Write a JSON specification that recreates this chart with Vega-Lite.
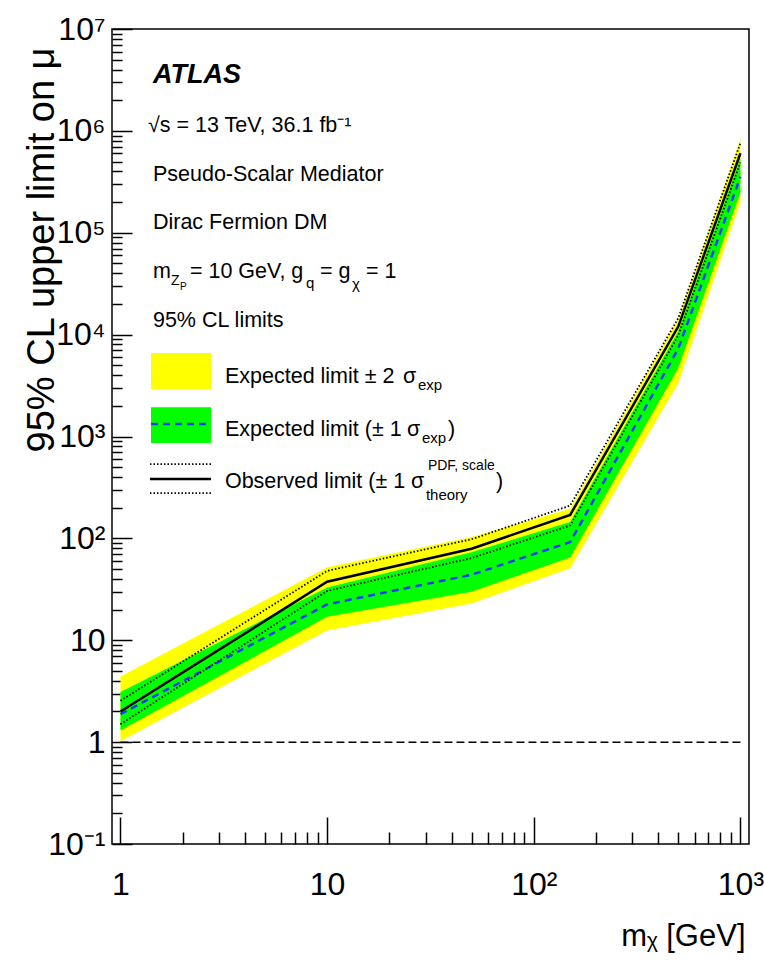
{
  "$schema": "https://vega.github.io/schema/vega-lite/v6.json",
  "width": 637,
  "height": 815,
  "autosize": "none",
  "padding": {"left": 112, "top": 29, "right": 15, "bottom": 116},
  "background": "white",
  "config": {
    "view": {"stroke": "black", "strokeWidth": 1.5},
    "axis": {"domain": false, "grid": false, "tickColor": "black", "tickWidth": 1.5, "labelColor": "black", "titleColor": "black", "zindex": 1},
    "text": {"font": "Liberation Sans", "color": "black", "align": "left", "baseline": "alphabetic", "fontSize": 21.5}
  },
  "resolve": {"axis": {"x": "independent", "y": "independent"}},
  "datasets": {
    "limits": [
      {"m": 1, "m2": 1.02, "m1": 1.3, "exp": 1.88, "p1": 3.1, "p2": 4.4, "obs": 2.0, "obsUp": 2.55, "obsDown": 1.5},
      {"m": 10, "m2": 12.5, "m1": 17, "exp": 22.5, "p1": 33, "p2": 52, "obs": 37.5, "obsUp": 48, "obsDown": 30.5},
      {"m": 50, "m2": 23, "m1": 30, "exp": 44, "p1": 73, "p2": 103, "obs": 79, "obsUp": 98, "obsDown": 64},
      {"m": 150, "m2": 51, "m1": 65, "exp": 92, "p1": 145, "p2": 195, "obs": 170, "obsUp": 210, "obsDown": 134},
      {"m": 500, "m2": 3340, "m1": 4700, "exp": 7300, "p1": 10800, "p2": 14300, "obs": 12000, "obsUp": 14500, "obsDown": 9800},
      {"m": 1000, "m2": 200000, "m1": 250000, "exp": 355000, "p1": 540000, "p2": 830000, "obs": 603000, "obsUp": 760000, "obsDown": 490000}
    ],
    "one": [{}]
  },
  "layer": [
    {
      "data": {"name": "limits"},
      "mark": {"type": "area", "fill": "#ffff00", "stroke": null},
      "encoding": {
        "x": {"field": "m", "type": "quantitative", "scale": {"type": "log", "domain": [0.91, 1100], "nice": false},
          "axis": {"orient": "bottom", "values": [1, 10, 100, 1000], "tickSize": -27, "labelPadding": 52,
            "labelExpr": "datum.value < 5 ? '1' : datum.value < 50 ? '10' : datum.value < 500 ? '10²' : '10³'",
            "labelFont": "Liberation Sans", "labelFontSize": 32, "labelBaseline": "top", "labelAlign": "center",
            "labelFlush": false, "labelOverlap": false,
            "title": "mᵪ [GeV]", "titleFont": "Liberation Sans", "titleFontSize": 31, "titleFontWeight": "normal",
            "titleAnchor": "end", "titleAlign": "right", "titleBaseline": "alphabetic", "titleX": 633, "titleY": 101}},
        "y": {"field": "p2", "type": "quantitative", "scale": {"type": "log", "domain": [0.1, 10000000], "nice": false},
          "axis": {"orient": "left", "values": [0.1, 1, 10, 100, 1000, 10000, 100000, 1000000, 10000000], "tickSize": -20, "labelPadding": 27,
            "labelExpr": "datum.value < 0.5 ? '10⁻¹' : datum.value < 5 ? '1' : datum.value < 50 ? '10' : datum.value < 500 ? '10²' : datum.value < 5000 ? '10³' : datum.value < 50000 ? '10⁴' : datum.value < 500000 ? '10⁵' : datum.value < 5000000 ? '10⁶' : '10⁷'",
            "labelFont": "Liberation Sans", "labelFontSize": 32, "labelAlign": "right", "labelBaseline": "middle",
            "labelFlush": false, "labelOverlap": false,
            "title": "95% CL upper limit on μ", "titleFont": "Liberation Sans", "titleFontSize": 38, "titleFontWeight": "normal",
            "titleAngle": -90, "titleAlign": "right", "titleBaseline": "alphabetic", "titleX": -59, "titleY": 18}},
        "y2": {"field": "m2"}
      }
    },
    {
      "data": {"name": "limits"},
      "mark": {"type": "area", "fill": "#00ff00", "stroke": null},
      "encoding": {
        "x": {"field": "m", "type": "quantitative", "scale": {"type": "log", "domain": [0.91, 1100], "nice": false},
          "axis": {"orient": "bottom", "values": [2, 3, 4, 5, 6, 7, 8, 9, 20, 30, 40, 50, 60, 70, 80, 90, 200, 300, 400, 500, 600, 700, 800, 900], "tickSize": -12, "labels": false, "title": null}},
        "y": {"field": "p1", "type": "quantitative", "scale": {"type": "log", "domain": [0.1, 10000000], "nice": false},
          "axis": {"orient": "left", "values": [0.2, 0.3, 0.4, 0.5, 0.6, 0.7, 0.8, 0.9, 2, 3, 4, 5, 6, 7, 8, 9, 20, 30, 40, 50, 60, 70, 80, 90, 200, 300, 400, 500, 600, 700, 800, 900, 2000, 3000, 4000, 5000, 6000, 7000, 8000, 9000, 20000, 30000, 40000, 50000, 60000, 70000, 80000, 90000, 200000, 300000, 400000, 500000, 600000, 700000, 800000, 900000, 2000000, 3000000, 4000000, 5000000, 6000000, 7000000, 8000000, 9000000], "tickSize": -10, "labels": false, "title": null}},
        "y2": {"field": "m1"}
      }
    },
    {
      "data": {"name": "limits"},
      "mark": {"type": "line", "stroke": "#1a3cf5", "strokeWidth": 2.5, "strokeDash": [7, 5]},
      "encoding": {
        "x": {"field": "m", "type": "quantitative", "scale": {"type": "log", "domain": [0.91, 1100], "nice": false}, "axis": null},
        "y": {"field": "exp", "type": "quantitative", "scale": {"type": "log", "domain": [0.1, 10000000], "nice": false}, "axis": null}
      }
    },
    {
      "data": {"name": "limits"},
      "mark": {"type": "line", "stroke": "black", "strokeWidth": 1.8, "strokeDash": [1.5, 2]},
      "encoding": {
        "x": {"field": "m", "type": "quantitative", "scale": {"type": "log", "domain": [0.91, 1100], "nice": false}, "axis": null},
        "y": {"field": "obsUp", "type": "quantitative", "scale": {"type": "log", "domain": [0.1, 10000000], "nice": false}, "axis": null}
      }
    },
    {
      "data": {"name": "limits"},
      "mark": {"type": "line", "stroke": "black", "strokeWidth": 1.8, "strokeDash": [1.5, 2]},
      "encoding": {
        "x": {"field": "m", "type": "quantitative", "scale": {"type": "log", "domain": [0.91, 1100], "nice": false}, "axis": null},
        "y": {"field": "obsDown", "type": "quantitative", "scale": {"type": "log", "domain": [0.1, 10000000], "nice": false}, "axis": null}
      }
    },
    {
      "data": {"name": "limits"},
      "mark": {"type": "line", "stroke": "black", "strokeWidth": 2.5},
      "encoding": {
        "x": {"field": "m", "type": "quantitative", "scale": {"type": "log", "domain": [0.91, 1100], "nice": false}, "axis": null},
        "y": {"field": "obs", "type": "quantitative", "scale": {"type": "log", "domain": [0.1, 10000000], "nice": false}, "axis": null}
      }
    },
    {
      "data": {"name": "one"},
      "mark": {"type": "rule", "stroke": "black", "strokeWidth": 1.5, "strokeDash": [8, 4]},
      "encoding": {
        "x": {"datum": 1, "type": "quantitative", "scale": {"type": "log", "domain": [0.91, 1100], "nice": false}, "axis": null},
        "x2": {"datum": 1000},
        "y": {"datum": 1, "type": "quantitative", "scale": {"type": "log", "domain": [0.1, 10000000], "nice": false}, "axis": null}
      }
    },
    {
      "data": {"name": "one"},
      "mark": {"type": "rect", "fill": "#ffff00"},
      "encoding": {
        "x": {"datum": 1.405, "type": "quantitative", "scale": {"type": "log", "domain": [0.91, 1100], "nice": false}, "axis": null},
        "x2": {"datum": 2.741},
        "y": {"datum": 6598, "type": "quantitative", "scale": {"type": "log", "domain": [0.1, 10000000], "nice": false}, "axis": null},
        "y2": {"datum": 2924}
      }
    },
    {
      "data": {"name": "one"},
      "mark": {"type": "rect", "fill": "#00ff00"},
      "encoding": {
        "x": {"datum": 1.405, "type": "quantitative", "scale": {"type": "log", "domain": [0.91, 1100], "nice": false}, "axis": null},
        "x2": {"datum": 2.741},
        "y": {"datum": 1942, "type": "quantitative", "scale": {"type": "log", "domain": [0.1, 10000000], "nice": false}, "axis": null},
        "y2": {"datum": 863}
      }
    },
    {
      "data": {"name": "one"},
      "mark": {"type": "rule", "stroke": "#1a3cf5", "strokeWidth": 2.5, "strokeDash": [7, 5]},
      "encoding": {
        "x": {"datum": 1.405, "type": "quantitative", "scale": {"type": "log", "domain": [0.91, 1100], "nice": false}, "axis": null},
        "x2": {"datum": 2.741},
        "y": {"datum": 1327, "type": "quantitative", "scale": {"type": "log", "domain": [0.1, 10000000], "nice": false}, "axis": null}
      }
    },
    {
      "data": {"name": "one"},
      "mark": {"type": "rule", "stroke": "black", "strokeWidth": 1.8, "strokeDash": [1.5, 2]},
      "encoding": {
        "x": {"datum": 1.389, "type": "quantitative", "scale": {"type": "log", "domain": [0.91, 1100], "nice": false}, "axis": null},
        "x2": {"datum": 2.741},
        "y": {"datum": 536.8, "type": "quantitative", "scale": {"type": "log", "domain": [0.1, 10000000], "nice": false}, "axis": null}
      }
    },
    {
      "data": {"name": "one"},
      "mark": {"type": "rule", "stroke": "black", "strokeWidth": 2.5},
      "encoding": {
        "x": {"datum": 1.389, "type": "quantitative", "scale": {"type": "log", "domain": [0.91, 1100], "nice": false}, "axis": null},
        "x2": {"datum": 2.741},
        "y": {"datum": 382.3, "type": "quantitative", "scale": {"type": "log", "domain": [0.1, 10000000], "nice": false}, "axis": null}
      }
    },
    {
      "data": {"name": "one"},
      "mark": {"type": "rule", "stroke": "black", "strokeWidth": 1.8, "strokeDash": [1.5, 2]},
      "encoding": {
        "x": {"datum": 1.389, "type": "quantitative", "scale": {"type": "log", "domain": [0.91, 1100], "nice": false}, "axis": null},
        "x2": {"datum": 2.741},
        "y": {"datum": 278.7, "type": "quantitative", "scale": {"type": "log", "domain": [0.1, 10000000], "nice": false}, "axis": null}
      }
    },
    {
      "data": {"name": "one"},
      "mark": {"type": "text", "text": "ATLAS", "fontSize": 27, "fontWeight": "bold", "fontStyle": "italic"},
      "encoding": {
        "x": {"datum": 1.436, "type": "quantitative", "scale": {"type": "log", "domain": [0.91, 1100], "nice": false}, "axis": null},
        "y": {"datum": 2949000, "type": "quantitative", "scale": {"type": "log", "domain": [0.1, 10000000], "nice": false}, "axis": null}
      }
    },
    {
      "data": {"name": "one"},
      "mark": {"type": "text", "text": "√s = 13 TeV, 36.1 fb⁻¹"},
      "encoding": {
        "x": {"datum": 1.359, "type": "quantitative", "scale": {"type": "log", "domain": [0.91, 1100], "nice": false}, "axis": null},
        "y": {"datum": 974300, "type": "quantitative", "scale": {"type": "log", "domain": [0.1, 10000000], "nice": false}, "axis": null}
      }
    },
    {
      "data": {"name": "one"},
      "mark": {"type": "text", "text": "Pseudo-Scalar Mediator"},
      "encoding": {
        "x": {"datum": 1.436, "type": "quantitative", "scale": {"type": "log", "domain": [0.91, 1100], "nice": false}, "axis": null},
        "y": {"datum": 321900, "type": "quantitative", "scale": {"type": "log", "domain": [0.1, 10000000], "nice": false}, "axis": null}
      }
    },
    {
      "data": {"name": "one"},
      "mark": {"type": "text", "text": "Dirac Fermion DM"},
      "encoding": {
        "x": {"datum": 1.436, "type": "quantitative", "scale": {"type": "log", "domain": [0.91, 1100], "nice": false}, "axis": null},
        "y": {"datum": 108800, "type": "quantitative", "scale": {"type": "log", "domain": [0.1, 10000000], "nice": false}, "axis": null}
      }
    },
    {
      "data": {"name": "one"},
      "mark": {"type": "text", "text": "m"},
      "encoding": {
        "x": {"datum": 1.436, "type": "quantitative", "scale": {"type": "log", "domain": [0.91, 1100], "nice": false}, "axis": null},
        "y": {"datum": 35940, "type": "quantitative", "scale": {"type": "log", "domain": [0.1, 10000000], "nice": false}, "axis": null}
      }
    },
    {
      "data": {"name": "one"},
      "mark": {"type": "text", "text": "Z", "fontSize": 14},
      "encoding": {
        "x": {"datum": 1.755, "type": "quantitative", "scale": {"type": "log", "domain": [0.91, 1100], "nice": false}, "axis": null},
        "y": {"datum": 30690, "type": "quantitative", "scale": {"type": "log", "domain": [0.1, 10000000], "nice": false}, "axis": null}
      }
    },
    {
      "data": {"name": "one"},
      "mark": {"type": "text", "text": "P", "fontSize": 10},
      "encoding": {
        "x": {"datum": 1.941, "type": "quantitative", "scale": {"type": "log", "domain": [0.91, 1100], "nice": false}, "axis": null},
        "y": {"datum": 27410, "type": "quantitative", "scale": {"type": "log", "domain": [0.1, 10000000], "nice": false}, "axis": null}
      }
    },
    {
      "data": {"name": "one"},
      "mark": {"type": "text", "text": "= 10 GeV, g"},
      "encoding": {
        "x": {"datum": 2.169, "type": "quantitative", "scale": {"type": "log", "domain": [0.91, 1100], "nice": false}, "axis": null},
        "y": {"datum": 35940, "type": "quantitative", "scale": {"type": "log", "domain": [0.1, 10000000], "nice": false}, "axis": null}
      }
    },
    {
      "data": {"name": "one"},
      "mark": {"type": "text", "text": "q", "fontSize": 15},
      "encoding": {
        "x": {"datum": 7.897, "type": "quantitative", "scale": {"type": "log", "domain": [0.91, 1100], "nice": false}, "axis": null},
        "y": {"datum": 28670, "type": "quantitative", "scale": {"type": "log", "domain": [0.1, 10000000], "nice": false}, "axis": null}
      }
    },
    {
      "data": {"name": "one"},
      "mark": {"type": "text", "text": "= g"},
      "encoding": {
        "x": {"datum": 9.231, "type": "quantitative", "scale": {"type": "log", "domain": [0.91, 1100], "nice": false}, "axis": null},
        "y": {"datum": 35940, "type": "quantitative", "scale": {"type": "log", "domain": [0.1, 10000000], "nice": false}, "axis": null}
      }
    },
    {
      "data": {"name": "one"},
      "mark": {"type": "text", "text": "χ", "fontSize": 15},
      "encoding": {
        "x": {"datum": 13.18, "type": "quantitative", "scale": {"type": "log", "domain": [0.91, 1100], "nice": false}, "axis": null},
        "y": {"datum": 28030, "type": "quantitative", "scale": {"type": "log", "domain": [0.1, 10000000], "nice": false}, "axis": null}
      }
    },
    {
      "data": {"name": "one"},
      "mark": {"type": "text", "text": "= 1"},
      "encoding": {
        "x": {"datum": 15.40, "type": "quantitative", "scale": {"type": "log", "domain": [0.91, 1100], "nice": false}, "axis": null},
        "y": {"datum": 35940, "type": "quantitative", "scale": {"type": "log", "domain": [0.1, 10000000], "nice": false}, "axis": null}
      }
    },
    {
      "data": {"name": "one"},
      "mark": {"type": "text", "text": "95% CL limits"},
      "encoding": {
        "x": {"datum": 1.436, "type": "quantitative", "scale": {"type": "log", "domain": [0.91, 1100], "nice": false}, "axis": null},
        "y": {"datum": 11875, "type": "quantitative", "scale": {"type": "log", "domain": [0.1, 10000000], "nice": false}, "axis": null}
      }
    },
    {
      "data": {"name": "one"},
      "mark": {"type": "text", "text": "Expected limit ± 2"},
      "encoding": {
        "x": {"datum": 3.203, "type": "quantitative", "scale": {"type": "log", "domain": [0.91, 1100], "nice": false}, "axis": null},
        "y": {"datum": 3349, "type": "quantitative", "scale": {"type": "log", "domain": [0.1, 10000000], "nice": false}, "axis": null}
      }
    },
    {
      "data": {"name": "one"},
      "mark": {"type": "text", "text": "σ"},
      "encoding": {
        "x": {"datum": 23.27, "type": "quantitative", "scale": {"type": "log", "domain": [0.91, 1100], "nice": false}, "axis": null},
        "y": {"datum": 3349, "type": "quantitative", "scale": {"type": "log", "domain": [0.1, 10000000], "nice": false}, "axis": null}
      }
    },
    {
      "data": {"name": "one"},
      "mark": {"type": "text", "text": "exp", "fontSize": 15},
      "encoding": {
        "x": {"datum": 27.5, "type": "quantitative", "scale": {"type": "log", "domain": [0.91, 1100], "nice": false}, "axis": null},
        "y": {"datum": 2860, "type": "quantitative", "scale": {"type": "log", "domain": [0.1, 10000000], "nice": false}, "axis": null}
      }
    },
    {
      "data": {"name": "one"},
      "mark": {"type": "text", "text": "Expected limit (± 1"},
      "encoding": {
        "x": {"datum": 3.203, "type": "quantitative", "scale": {"type": "log", "domain": [0.91, 1100], "nice": false}, "axis": null},
        "y": {"datum": 1011, "type": "quantitative", "scale": {"type": "log", "domain": [0.1, 10000000], "nice": false}, "axis": null}
      }
    },
    {
      "data": {"name": "one"},
      "mark": {"type": "text", "text": "σ"},
      "encoding": {
        "x": {"datum": 24.33, "type": "quantitative", "scale": {"type": "log", "domain": [0.91, 1100], "nice": false}, "axis": null},
        "y": {"datum": 1011, "type": "quantitative", "scale": {"type": "log", "domain": [0.1, 10000000], "nice": false}, "axis": null}
      }
    },
    {
      "data": {"name": "one"},
      "mark": {"type": "text", "text": "exp", "fontSize": 15},
      "encoding": {
        "x": {"datum": 28.75, "type": "quantitative", "scale": {"type": "log", "domain": [0.91, 1100], "nice": false}, "axis": null},
        "y": {"datum": 863, "type": "quantitative", "scale": {"type": "log", "domain": [0.1, 10000000], "nice": false}, "axis": null}
      }
    },
    {
      "data": {"name": "one"},
      "mark": {"type": "text", "text": ")"},
      "encoding": {
        "x": {"datum": 38.41, "type": "quantitative", "scale": {"type": "log", "domain": [0.91, 1100], "nice": false}, "axis": null},
        "y": {"datum": 1011, "type": "quantitative", "scale": {"type": "log", "domain": [0.1, 10000000], "nice": false}, "axis": null}
      }
    },
    {
      "data": {"name": "one"},
      "mark": {"type": "text", "text": "Observed limit (± 1"},
      "encoding": {
        "x": {"datum": 3.203, "type": "quantitative", "scale": {"type": "log", "domain": [0.91, 1100], "nice": false}, "axis": null},
        "y": {"datum": 312, "type": "quantitative", "scale": {"type": "log", "domain": [0.1, 10000000], "nice": false}, "axis": null}
      }
    },
    {
      "data": {"name": "one"},
      "mark": {"type": "text", "text": "σ"},
      "encoding": {
        "x": {"datum": 25.43, "type": "quantitative", "scale": {"type": "log", "domain": [0.91, 1100], "nice": false}, "axis": null},
        "y": {"datum": 312, "type": "quantitative", "scale": {"type": "log", "domain": [0.1, 10000000], "nice": false}, "axis": null}
      }
    },
    {
      "data": {"name": "one"},
      "mark": {"type": "text", "text": "theory", "fontSize": 15},
      "encoding": {
        "x": {"datum": 30.05, "type": "quantitative", "scale": {"type": "log", "domain": [0.91, 1100], "nice": false}, "axis": null},
        "y": {"datum": 237.9, "type": "quantitative", "scale": {"type": "log", "domain": [0.1, 10000000], "nice": false}, "axis": null}
      }
    },
    {
      "data": {"name": "one"},
      "mark": {"type": "text", "text": "PDF, scale", "fontSize": 14},
      "encoding": {
        "x": {"datum": 30.73, "type": "quantitative", "scale": {"type": "log", "domain": [0.91, 1100], "nice": false}, "axis": null},
        "y": {"datum": 469, "type": "quantitative", "scale": {"type": "log", "domain": [0.1, 10000000], "nice": false}, "axis": null}
      }
    },
    {
      "data": {"name": "one"},
      "mark": {"type": "text", "text": ")"},
      "encoding": {
        "x": {"datum": 65.6, "type": "quantitative", "scale": {"type": "log", "domain": [0.91, 1100], "nice": false}, "axis": null},
        "y": {"datum": 312, "type": "quantitative", "scale": {"type": "log", "domain": [0.1, 10000000], "nice": false}, "axis": null}
      }
    }
  ]
}
